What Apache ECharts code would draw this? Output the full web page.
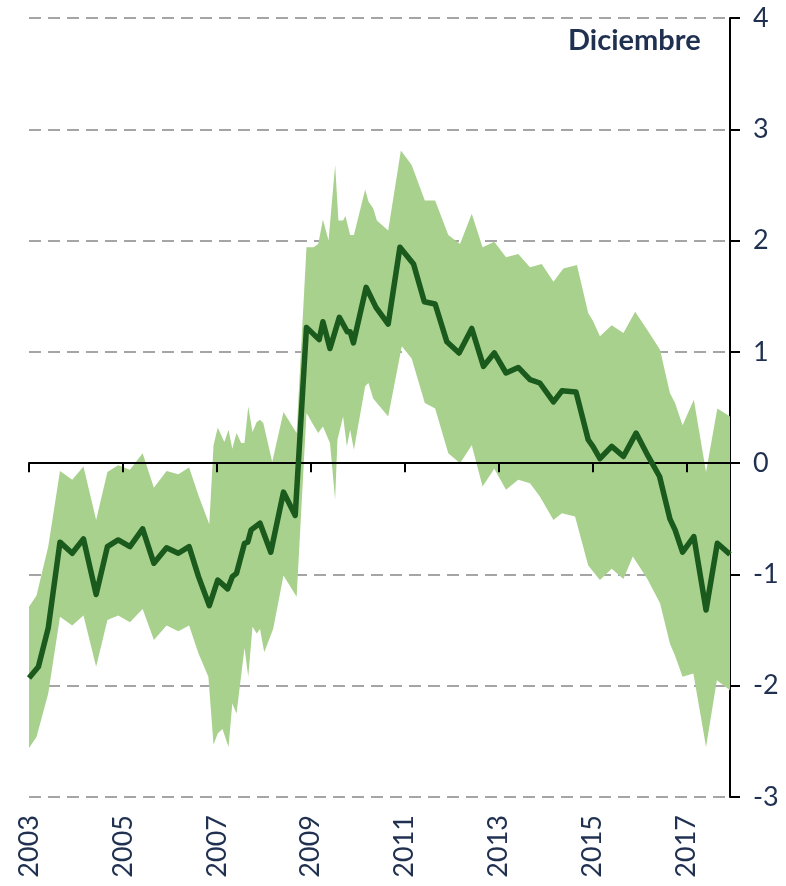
<!DOCTYPE html>
<html>
<head>
<meta charset="utf-8">
<script src="https://cdn.jsdelivr.net/npm/echarts@6/dist/echarts.min.js"></script>
<style>html,body{margin:0;padding:0;background:#fff}#c{width:786px;height:886px}</style>
</head>
<body>
<div id="c"></div>
<script>
// Central line (decimal year, value)
const lineX = [2003.00,2003.20,2003.41,2003.66,2003.92,2004.16,2004.43,2004.67,2004.90,2005.15,2005.42,2005.66,2005.93,2006.18,2006.41,2006.61,2006.84,2007.02,2007.23,2007.33,2007.42,2007.59,2007.66,2007.73,2007.92,2008.15,2008.42,2008.67,2008.91,2009.18,2009.26,2009.41,2009.61,2009.78,2009.84,2009.91,2010.18,2010.39,2010.65,2010.90,2011.19,2011.42,2011.65,2011.90,2012.16,2012.43,2012.68,2012.91,2013.16,2013.42,2013.67,2013.88,2014.17,2014.35,2014.65,2014.91,2015.01,2015.16,2015.41,2015.66,2015.93,2016.19,2016.43,2016.65,2016.76,2016.92,2017.16,2017.42,2017.66,2017.93];
const lineY = [-1.93,-1.83,-1.48,-0.71,-0.81,-0.68,-1.18,-0.75,-0.69,-0.75,-0.59,-0.90,-0.76,-0.81,-0.75,-1.02,-1.28,-1.05,-1.13,-1.02,-0.99,-0.72,-0.71,-0.60,-0.54,-0.80,-0.26,-0.47,1.22,1.11,1.27,1.03,1.31,1.18,1.18,1.08,1.58,1.40,1.25,1.94,1.79,1.45,1.43,1.09,0.99,1.21,0.87,0.99,0.81,0.86,0.75,0.72,0.55,0.65,0.64,0.21,0.15,0.04,0.15,0.06,0.27,0.06,-0.12,-0.50,-0.60,-0.80,-0.66,-1.32,-0.72,-0.82];

// Upper edge of the band
const upperX = [2003.00,2003.16,2003.41,2003.66,2003.92,2004.16,2004.43,2004.67,2004.90,2005.15,2005.42,2005.66,2005.93,2006.18,2006.41,2006.61,2006.84,2006.93,2007.02,2007.16,2007.25,2007.33,2007.42,2007.52,2007.59,2007.67,2007.76,2007.85,2007.92,2007.99,2008.18,2008.42,2008.70,2008.91,2009.06,2009.16,2009.26,2009.38,2009.52,2009.59,2009.69,2009.74,2009.84,2009.92,2010.16,2010.23,2010.33,2010.41,2010.65,2010.92,2011.15,2011.43,2011.65,2011.93,2012.18,2012.43,2012.66,2012.91,2013.16,2013.42,2013.67,2013.92,2014.17,2014.38,2014.67,2014.91,2015.01,2015.16,2015.41,2015.66,2015.91,2016.18,2016.44,2016.65,2016.76,2016.92,2017.16,2017.42,2017.66,2017.93];
const upperY = [-1.29,-1.19,-0.75,-0.07,-0.15,-0.03,-0.51,-0.08,-0.02,-0.06,0.09,-0.22,-0.07,-0.10,-0.04,-0.29,-0.55,0.16,0.32,0.19,0.30,0.13,0.27,0.18,0.18,0.51,0.28,0.37,0.39,0.36,0.01,0.46,0.27,1.94,1.94,1.97,2.19,2.00,2.68,2.18,2.18,2.22,2.05,2.05,2.46,2.35,2.29,2.18,2.09,2.81,2.68,2.36,2.36,2.05,1.97,2.24,1.94,1.99,1.85,1.88,1.76,1.79,1.63,1.75,1.78,1.35,1.28,1.14,1.24,1.17,1.36,1.19,1.02,0.63,0.54,0.34,0.57,-0.08,0.49,0.42];

// Lower edge of the band
const lowerX = [2003.00,2003.16,2003.41,2003.66,2003.92,2004.16,2004.43,2004.67,2004.90,2005.15,2005.42,2005.66,2005.93,2006.18,2006.41,2006.61,2006.82,2006.93,2007.02,2007.12,2007.25,2007.33,2007.42,2007.59,2007.67,2007.76,2007.85,2007.92,2008.01,2008.20,2008.42,2008.70,2008.91,2009.06,2009.16,2009.26,2009.41,2009.52,2009.57,2009.69,2009.77,2009.84,2009.92,2010.16,2010.23,2010.33,2010.65,2010.94,2011.15,2011.43,2011.65,2011.93,2012.18,2012.43,2012.66,2012.91,2013.16,2013.42,2013.67,2013.88,2014.17,2014.35,2014.63,2014.91,2015.16,2015.41,2015.66,2015.86,2016.17,2016.44,2016.65,2016.76,2016.92,2017.15,2017.42,2017.65,2017.93];
const lowerY = [-2.56,-2.46,-2.07,-1.38,-1.46,-1.37,-1.83,-1.41,-1.37,-1.43,-1.31,-1.59,-1.46,-1.51,-1.46,-1.71,-1.92,-2.53,-2.43,-2.39,-2.55,-2.16,-2.25,-1.66,-1.92,-1.47,-1.53,-1.49,-1.70,-1.49,-1.01,-1.20,0.45,0.34,0.27,0.33,0.18,-0.33,0.21,0.42,0.15,0.30,0.12,0.69,0.72,0.58,0.42,1.05,0.94,0.54,0.49,0.09,0.00,0.16,-0.21,-0.05,-0.24,-0.15,-0.18,-0.30,-0.51,-0.45,-0.48,-0.92,-1.05,-0.95,-1.04,-0.84,-1.04,-1.26,-1.62,-1.73,-1.92,-1.89,-2.55,-1.95,-2.04];

const yearTicks = [2003,2005,2007,2009,2011,2013,2015,2017];
const yearLabels = ['2003','2005','2007','2009','2011','2013','2015','2017'];
const titleText = 'Diciembre';

const navy = '#1f3050';
const fontFam = 'Lato, "Open Sans", sans-serif';
const chart = echarts.init(document.getElementById('c'), null, {renderer: 'canvas'});

const bandPoly = [];
for (let i = 0; i < upperX.length; i++) bandPoly.push([upperX[i], upperY[i]]);
for (let i = lowerX.length - 1; i >= 0; i--) bandPoly.push([lowerX[i], lowerY[i]]);

chart.setOption({
  animation: false,
  grid: {left: 29, right: 56, top: 18, bottom: 89},
  xAxis: [{
    type: 'value', min: 2003, max: 2017.93, z: 3,
    axisLine: {show: true, onZero: true, lineStyle: {color: '#000', width: 2}},
    axisTick: {show: true, length: 9, lineStyle: {color: '#000', width: 2}, customValues: yearTicks},
    axisLabel: {show: false},
    splitLine: {show: false}
  }, {
    type: 'value', min: 2003, max: 2017.93, position: 'bottom',
    axisLine: {show: false, onZero: false},
    axisTick: {show: false},
    splitLine: {show: false},
    axisLabel: {
      show: true, rotate: 90, margin: 18, fontSize: 27, color: navy, fontFamily: fontFam,
      customValues: yearTicks,
      formatter: v => yearLabels[yearTicks.indexOf(Math.round(v))] || ''
    }
  }],
  yAxis: {
    type: 'value', position: 'right', min: -3, max: 4, interval: 1,
    axisLine: {show: true, lineStyle: {color: '#000', width: 2}},
    axisTick: {show: true, length: 10, lineStyle: {color: '#000', width: 2}},
    axisLabel: {fontSize: 27, color: navy, fontFamily: fontFam, margin: 23},
    splitLine: {show: true, lineStyle: {color: '#888', width: 1.5, type: [12, 7]}}
  },
  graphic: [{
    type: 'text', left: 568, top: 26,
    style: {text: titleText, font: 'bold 29px ' + fontFam, fill: navy}
  }],
  series: [{
    type: 'custom', xAxisIndex: 0, yAxisIndex: 0, z: 1,
    data: [[upperX[0], upperY[0]]],
    renderItem: function (params, api) {
      const pts = bandPoly.map(p => api.coord(p));
      return {type: 'polygon', shape: {points: pts}, style: {fill: '#a9d18e'}};
    },
    silent: true
  }, {
    type: 'line', xAxisIndex: 0, yAxisIndex: 0, z: 5,
    data: lineX.map((x, i) => [x, lineY[i]]),
    showSymbol: false, symbol: 'none',
    lineStyle: {color: '#1a5a1c', width: 5.5, join: 'round'}
  }]
});
</script>
</body>
</html>
